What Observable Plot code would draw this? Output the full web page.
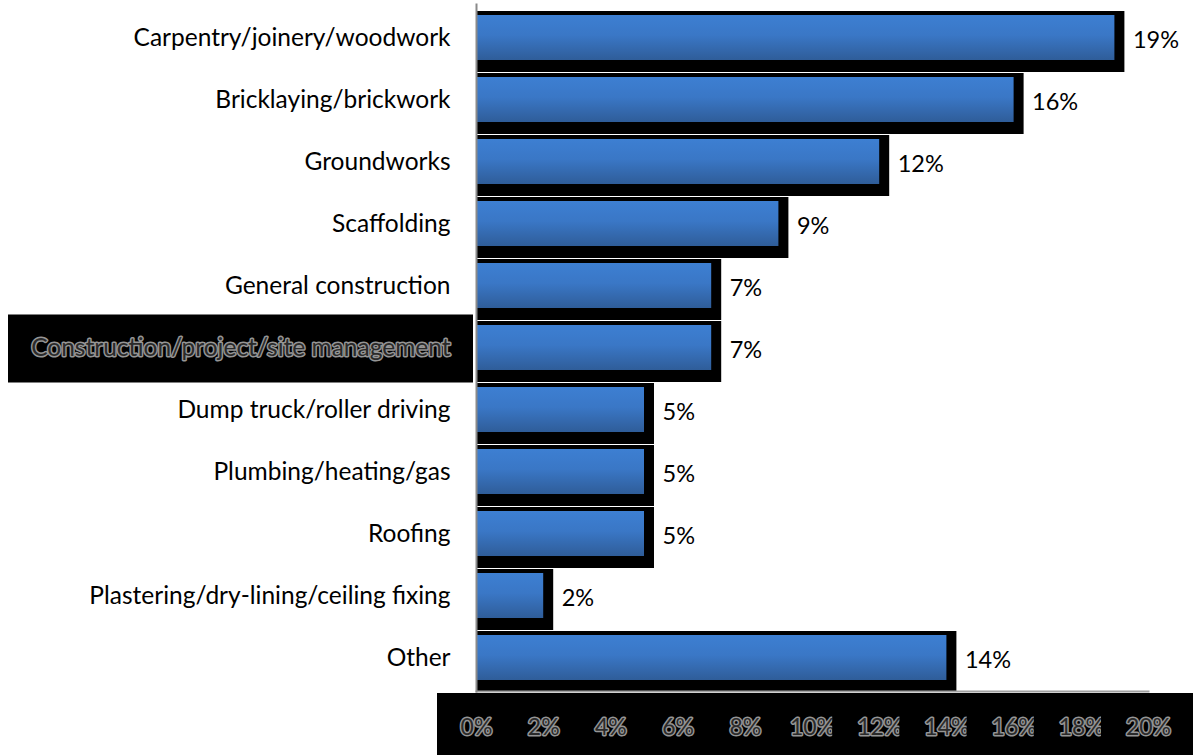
<!DOCTYPE html>
<html>
<head>
<meta charset="utf-8">
<script src="https://cdn.jsdelivr.net/npm/d3@7"></script>
<script src="https://cdn.jsdelivr.net/npm/@observablehq/plot@0.6"></script>
<style>
  html, body { margin: 0; padding: 0; background: white; }
  #chart { width: 1193px; height: 755px; }
</style>
</head>
<body>
<div id="chart"></div>
<script>
const categories = [
  "Carpentry/joinery/woodwork",
  "Bricklaying/brickwork",
  "Groundworks",
  "Scaffolding",
  "General construction",
  "Construction/project/site management",
  "Dump truck/roller driving",
  "Plumbing/heating/gas",
  "Roofing",
  "Plastering/dry-lining/ceiling fixing",
  "Other"
];
const values = [19, 16, 12, 9, 7, 7, 5, 5, 5, 2, 14];
const xTicks = [0, 2, 4, 6, 8, 10, 12, 14, 16, 18, 20];
const highlighted = "Construction/project/site management";

const data = categories.map((c, i) => ({category: c, value: values[i], label: values[i] + "%"}));

const defsMark = () => {
  const defs = d3.create("svg:defs");
  const g = defs.append("linearGradient").attr("id", "barGrad")
    .attr("x1", 0).attr("y1", 0).attr("x2", 0).attr("y2", 1);
  g.append("stop").attr("offset", "0%").attr("stop-color", "#3d7fd2");
  g.append("stop").attr("offset", "45%").attr("stop-color", "#3a77c6");
  g.append("stop").attr("offset", "100%").attr("stop-color", "#2f5d99");
  return defs.node();
};

const FONT = "Lato";
const chart = Plot.plot({
  width: 1193,
  height: 755,
  marginLeft: 476,
  marginRight: 45,
  marginTop: 4,
  marginBottom: 64,
  style: {fontFamily: FONT, fontSize: "24px", background: "white", color: "black"},
  x: {domain: [0, 20]},
  y: {domain: categories, paddingInner: 0.28, paddingOuter: 0.145},
  marks: [
    defsMark,
    Plot.barX(data, {x: "value", y: "category", fill: "black", insetTop: -4, insetBottom: -12, insetRight: -10}),
    Plot.barX(data, {x: "value", y: "category", fill: "url(#barGrad)"}),
    Plot.frame({anchor: "bottom", stroke: "#a0a0a0", strokeWidth: 2}),
    Plot.frame({anchor: "left", stroke: "#8a8a8a", strokeWidth: 2}),
    Plot.text(data, {x: "value", y: "category", text: "label", dx: 18, dy: 2, textAnchor: "start", fontSize: 23.5, fill: "black"}),
    Plot.axisY({tickSize: 0, tickPadding: 26, fontSize: 24.5, label: null, fill: "black"}),
    Plot.axisX({ticks: xTicks, tickSize: 0, tickPadding: 27, tickFormat: d => d + "%", fontSize: 23, label: null})
  ]
});
document.getElementById("chart").appendChild(chart);

// Decoration: black boxes behind the x-axis labels and highlighted category label
const xs = chart.scale("x");
const ys = chart.scale("y");
const bottomY = 755 - 64;
const NS = "http://www.w3.org/2000/svg";

function styleHalo(t) {
  t.setAttribute("fill", "#2a2a2a");
  t.setAttribute("stroke", "#959595");
  t.setAttribute("stroke-width", 3);
  t.setAttribute("stroke-linejoin", "round");
  t.setAttribute("paint-order", "stroke");
}

// rect in root coordinates, inserted before node inside its parent group
function rootRect(x, y, w, h, parent, before) {
  const r = document.createElementNS(NS, "rect");
  r.setAttribute("x", x);
  r.setAttribute("y", y);
  r.setAttribute("width", w);
  r.setAttribute("height", h);
  r.setAttribute("fill", "black");
  r.setAttribute("stroke", "none");
  const m = parent.getScreenCTM().inverse().multiply(chart.getScreenCTM());
  r.setAttribute("transform", `matrix(${m.a},${m.b},${m.c},${m.d},${m.e},${m.f})`);
  parent.insertBefore(r, before);
  return r;
}

// big black box under x axis
const bigX = xs.apply(0) - 39;
rootRect(bigX, bottomY + 2, 1193 - bigX, 755 - bottomY - 2, chart, chart.querySelector("defs").nextSibling);

const xLabels = chart.querySelectorAll('g[aria-label="x-axis tick label"] text');
xLabels.forEach((t, i) => {
  const cx = xs.apply(xTicks[i]);
  const left = Math.max(bigX, cx - 47);
  rootRect(left, bottomY + 2, cx + 25 - left, 755 - bottomY - 2, t.parentNode, t);
  styleHalo(t);
});

const yLabels = chart.querySelectorAll('g[aria-label="y-axis tick label"] text');
yLabels.forEach(t => {
  if (t.textContent === highlighted) {
    const cy = ys.apply(highlighted) + ys.bandwidth / 2;
    rootRect(8, cy - 33, 476 - 3 - 8, 68, t.parentNode, t);
    styleHalo(t);
  }
});
</script>
</body>
</html>
